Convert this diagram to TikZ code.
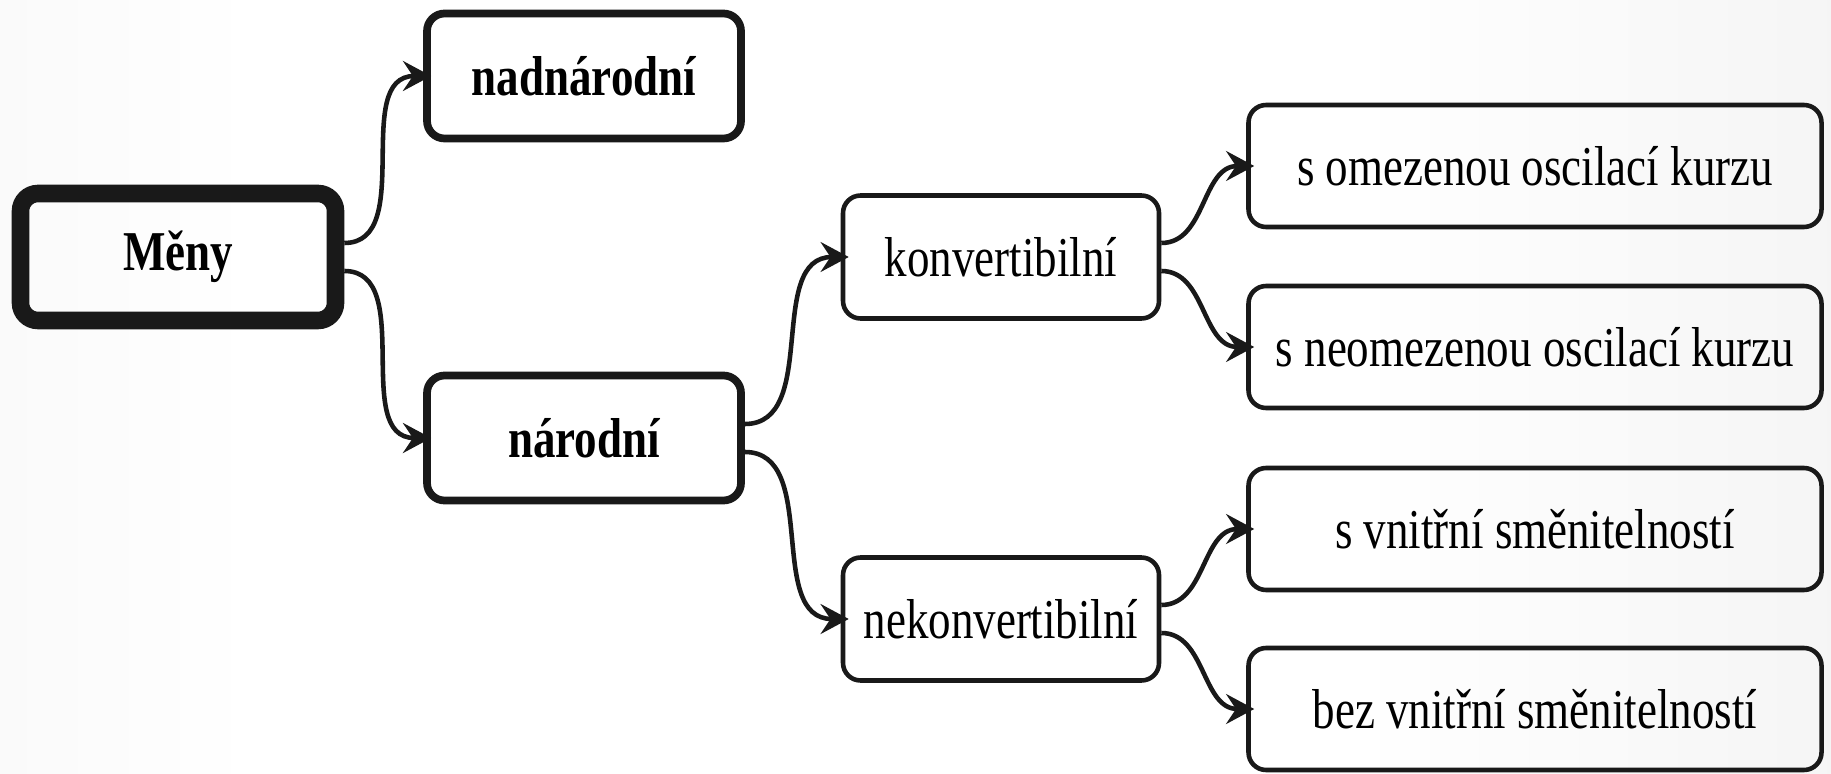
\documentclass[tikz,border=0pt]{standalone}
\usepackage{fontspec}
\setmainfont{Liberation Serif}[FakeStretch=0.8]
\usepackage{tikz}
\usetikzlibrary{arrows.meta,shapes}

\pgfdeclarehorizontalshading{bgshade}{100bp}{color(0bp)=(black!9); color(32bp)=(white); color(62bp)=(white); color(100bp)=(black!11)}

\tikzset{
  box/.style={draw=black!90, rounded corners=5pt, align=center,
    font=\fontsize{16}{19}\selectfont, inner sep=0pt},
  rootbox/.style={box, line width=5pt, minimum width=3.15cm, minimum height=1.27cm, font=\fontsize{16}{19}\selectfont\bfseries},
  midbox/.style={box, line width=2.2pt, minimum width=3.14cm, minimum height=1.25cm, font=\fontsize{16}{19}\selectfont\bfseries},
  subbox/.style={box, line width=1.3pt, minimum width=3.16cm, minimum height=1.23cm},
  leafbox/.style={box, line width=1.3pt, minimum width=5.73cm, minimum height=1.22cm},
  link/.style={line width=1.3pt, draw=black!90, shorten >=-0.8mm,
    -{Stealth[length=8pt,width=8.5pt,inset=2.8pt]}}
}

\begin{document}
\begin{tikzpicture}
% Background and frame
\useasboundingbox (0,0) rectangle (18.31,-7.74);
\shade[shading=bgshade] (0,0) rectangle (18.31,-7.74);

% Define the boxes
\node[rootbox] (Meny) at (1.78,-2.57) {Měny};
\node[midbox] (nadnar) at (5.84,-0.76) {nadnárodní};
\node[midbox] (narod) at (5.84,-4.38) {národní};
\node[subbox] (konv) at (10.01,-2.57) {konvertibilní};
\node[subbox] (nekonv) at (10.01,-6.19) {nekonvertibilní};
\node[leafbox] (omez) at (15.35,-1.66) {s omezenou oscilací kurzu};
\node[leafbox] (neomez) at (15.35,-3.47) {s neomezenou oscilací kurzu};
\node[leafbox] (vnitr) at (15.35,-5.29) {s vnitřní směnitelností};
\node[leafbox] (bezvnitr) at (15.35,-7.09) {bez vnitřní směnitelností};

% Draw the branches
\draw[link] ([yshift=1.4mm]Meny.east) to[out=0,in=180] (nadnar.west);
\draw[link] ([yshift=-1.4mm]Meny.east) to[out=0,in=180] (narod.west);
\draw[link] ([yshift=1.4mm]narod.east) to[out=0,in=180] (konv.west);
\draw[link] ([yshift=-1.4mm]narod.east) to[out=0,in=180] (nekonv.west);
\draw[link] ([yshift=1.4mm]konv.east) to[out=0,in=180] (omez.west);
\draw[link] ([yshift=-1.4mm]konv.east) to[out=0,in=180] (neomez.west);
\draw[link] ([yshift=1.4mm]nekonv.east) to[out=0,in=180] (vnitr.west);
\draw[link] ([yshift=-1.4mm]nekonv.east) to[out=0,in=180] (bezvnitr.west);
\end{tikzpicture}
\end{document}
